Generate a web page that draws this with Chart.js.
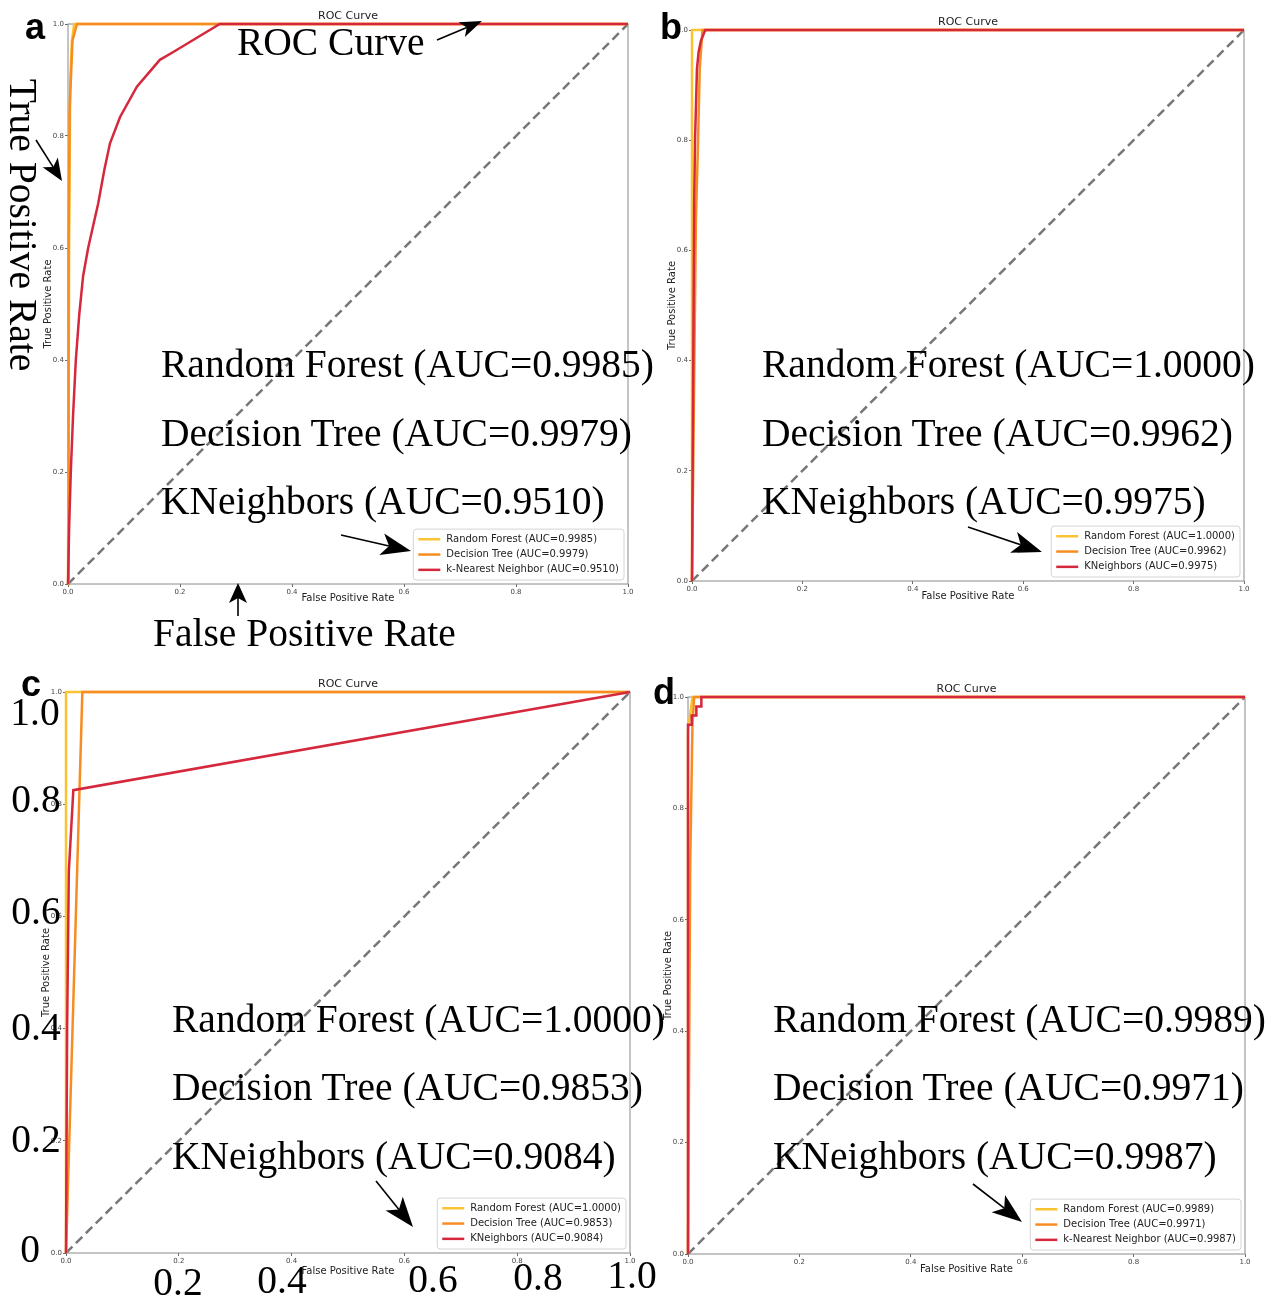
<!DOCTYPE html>
<html>
<head>
<meta charset="utf-8">
<script src="https://cdn.jsdelivr.net/npm/chart.js@4.4.0/dist/chart.umd.min.js"></script>
<style>
  body { margin: 0; background: #fff; }
  #page { position: relative; width: 1274px; height: 1301px; overflow: hidden; }
  canvas { position: absolute; }
  .note { position: absolute; font-family: "Liberation Serif", "Times New Roman", serif; font-size: 39.5px;
          line-height: 1; white-space: nowrap; color: #000; transform: translateY(-50%); }
  .mid { transform: translate(-50%, -50%); }
  .tag { position: absolute; font-family: "Liberation Sans", Arial, sans-serif; font-weight: bold;
         font-size: 36px; line-height: 1; transform: translate(-50%, -50%); }
  #arrows { position: absolute; left: 0; top: 0; z-index: 5; }
  .note, .tag { z-index: 6; }
</style>
</head>
<body>
<div id="page">
  <svg id="arrows" width="1274" height="1301"></svg>
</div>
<script>
// colours of the three models
const colors = ["#F9C433", "#F78D22", "#D5283C"];
const shortNames = ["Random Forest", "Decision Tree", "KNeighbors"];

// panel a
const namesA = ["Random Forest", "Decision Tree", "k-Nearest Neighbor"];
const aucA = [0.9985, 0.9979, 0.9510];
const forestA = [[0, 0], [0.002, 0.6], [0.004, 0.9], [0.007, 0.97], [0.011, 1], [1, 1]];
const treeA = [[0, 0], [0.001, 0.6], [0.003, 0.85], [0.008, 0.97], [0.016, 1], [1, 1]];
const knnA = [[0, 0], [0.002, 0.1], [0.005, 0.2], [0.009, 0.3], [0.014, 0.4], [0.02, 0.48], [0.027, 0.55],
  [0.036, 0.6], [0.045, 0.64], [0.054, 0.68], [0.065, 0.74], [0.075, 0.787], [0.093, 0.834],
  [0.123, 0.888], [0.164, 0.936], [0.188, 0.95], [0.271, 1], [1, 1]];

// panel b
const namesB = ["Random Forest", "Decision Tree", "KNeighbors"];
const aucB = [1.0, 0.9962, 0.9975];
const forestB = [[0, 0], [0, 1], [1, 1]];
const treeB = [[0, 0], [0.007, 0.65], [0.011, 0.8], [0.014, 0.93], [0.019, 1], [1, 1]];
const knnB = [[0, 0], [0.004, 0.69], [0.0055, 0.8], [0.009, 0.93], [0.012, 0.96], [0.016, 0.98], [0.024, 1], [1, 1]];

// panel c
const namesC = ["Random Forest", "Decision Tree", "KNeighbors"];
const aucC = [1.0, 0.9853, 0.9084];
const forestC = [[0, 0], [0, 1], [1, 1]];
const treeC = [[0, 0], [0.029, 1], [1, 1]];
const knnC = [[0, 0], [0.002, 0.4], [0.005, 0.68], [0.013, 0.825], [1, 1]];

// panel d
const namesD = ["Random Forest", "Decision Tree", "k-Nearest Neighbor"];
const aucD = [0.9989, 0.9971, 0.9987];
const forestD = [[0, 0], [0, 0.94], [0.004, 0.97], [0.008, 1], [1, 1]];
const treeD = [[0, 0], [0.004, 0.7], [0.008, 0.95], [0.011, 1], [1, 1]];
const knnD = [[0, 0], [0, 0.95], [0.0067, 0.95], [0.0067, 0.967], [0.015, 0.967], [0.015, 0.983],
  [0.024, 0.983], [0.024, 1], [1, 1]];

const chance = [[0, 0], [1, 1]];
const axisTicks = [0, 0.2, 0.4, 0.6, 0.8, 1.0];
const bigTicksY = ["1.0", "0.8", "0.6", "0.4", "0.2", "0"];
const bigTicksX = ["0.2", "0.4", "0.6", "0.8", "1.0"];

const page = document.getElementById("page");
const svg = document.getElementById("arrows");

const frame = {
  id: "frame",
  beforeDatasetsDraw(chart) {
    const a = chart.chartArea;
    const ctx = chart.ctx;
    ctx.save();
    ctx.strokeStyle = "#8a8a8a";
    ctx.lineWidth = 1;
    ctx.strokeRect(a.left, a.top, a.right - a.left, a.bottom - a.top);
    ctx.restore();
  }
};

const legendBox = {
  id: "legendBox",
  afterDatasetsDraw(chart) {
    const ctx = chart.ctx, area = chart.chartArea;
    const items = chart.data.datasets.filter((d) => d.label !== "chance");
    ctx.save();
    ctx.font = '10px "DejaVu Sans"';
    const textW = Math.max(...items.map((d) => ctx.measureText(d.label).width));
    const rowH = 15.3;
    const w = textW + 38, h = items.length * rowH + 5;
    const x = area.right - 4 - w, y = area.bottom - 4 - h;
    ctx.fillStyle = "rgba(255,255,255,0.85)";
    ctx.strokeStyle = "#d4d4d4";
    ctx.lineWidth = 1;
    ctx.beginPath();
    ctx.roundRect(x, y, w, h, 3);
    ctx.fill();
    ctx.stroke();
    items.forEach((d, i) => {
      const cy = y + 2.5 + rowH * (i + 0.5);
      ctx.strokeStyle = d.borderColor;
      ctx.lineWidth = 2.5;
      ctx.beginPath();
      ctx.moveTo(x + 5, cy);
      ctx.lineTo(x + 27, cy);
      ctx.stroke();
      ctx.fillStyle = "#222";
      ctx.textBaseline = "middle";
      ctx.fillText(d.label, x + 33, cy);
    });
    ctx.restore();
  }
};

const makePanel = (box, xTitleH, names, aucs, curves) => {
  const W = 27 + (box.r - box.l) + 8;
  const H = 18 + (box.b - box.t) + xTitleH;
  const canvas = document.createElement("canvas");
  canvas.width = W;
  canvas.height = H;
  canvas.style.left = box.l - 27 + "px";
  canvas.style.top = box.t - 18 + "px";
  canvas.style.width = W + "px";
  canvas.style.height = H + "px";
  page.appendChild(canvas);

  const datasets = curves.map((pts, i) => ({
    label: `${names[i]} (AUC=${aucs[i].toFixed(4)})`,
    data: pts.map((p) => ({ x: p[0], y: p[1] })),
    borderColor: colors[i],
    borderWidth: 2.5,
    showLine: true,
    pointRadius: 0,
    clip: false,
    order: 3 - i,
  }));
  datasets.push({
    label: "chance",
    data: chance.map((p) => ({ x: p[0], y: p[1] })),
    borderColor: "#777777",
    borderDash: [9, 5],
    borderWidth: 2.5,
    showLine: true,
    pointRadius: 0,
    order: 5,
  });

  const axis = (title, fit) => ({
    type: "linear",
    min: 0,
    max: 1,
    afterBuildTicks: (s) => { s.ticks = axisTicks.map((v) => ({ value: v })); },
    afterFit: fit,
    grid: { drawOnChartArea: false, drawTicks: true, tickLength: 3, color: "#444", lineWidth: 0.8 },
    border: { display: false },
    ticks: {
      font: { family: "DejaVu Sans", size: 7 },
      color: "#444",
      padding: 1,
      maxRotation: 0,
      callback: (v) => Number(v).toFixed(1),
    },
    title: {
      display: true,
      text: title,
      font: { family: "DejaVu Sans", size: 10 },
      color: "#222",
      padding: { top: 1, bottom: 0 },
    },
  });

  new Chart(canvas, {
    type: "scatter",
    data: { datasets },
    options: {
      responsive: false,
      animation: false,
      events: [],
      layout: { padding: { left: 0, right: 8, top: 0, bottom: 0 } },
      plugins: {
        legend: { display: false },
        tooltip: { enabled: false },
        title: {
          display: true,
          fullSize: false,
          text: "ROC Curve",
          font: { family: "DejaVu Sans", size: 11, weight: "normal", lineHeight: 1 },
          color: "#222",
          padding: { top: 5, bottom: 2 },
        },
      },
      scales: {
        x: axis("False Positive Rate", (s) => { s.height = xTitleH; }),
        y: axis("True Positive Rate", (s) => { s.width = 27; }),
      },
    },
    plugins: [frame, legendBox],
  });
};

makePanel({ l: 68, t: 24, r: 628, b: 584 }, 20, namesA, aucA, [forestA, treeA, knnA]);
makePanel({ l: 692, t: 30, r: 1244, b: 581 }, 21, namesB, aucB, [forestB, treeB, knnB]);
makePanel({ l: 66, t: 692, r: 630, b: 1253 }, 24, namesC, aucC, [forestC, treeC, knnC]);
makePanel({ l: 688, t: 697, r: 1245, b: 1254 }, 21, namesD, aucD, [forestD, treeD, knnD]);

// overlaid annotations
const note = (text, x, y, cls, extra) => {
  const el = document.createElement("div");
  el.className = cls;
  el.textContent = text;
  el.style.left = x + "px";
  el.style.top = y + "px";
  if (extra) el.style.transform = extra;
  page.appendChild(el);
};

const aucLines = (aucs, x, ys) => {
  shortNames.forEach((n, i) => note(`${n} (AUC=${aucs[i].toFixed(4)})`, x, ys[i], "note"));
};

aucLines(aucA, 161, [365, 434, 502]);
aucLines(aucB, 762, [365, 434, 502]);
aucLines(aucC, 172, [1020, 1088, 1157]);
aucLines(aucD, 773, [1020, 1088, 1157]);

note("ROC Curve", 237, 43, "note");
note("False Positive Rate", 153, 634, "note");
note("True Positive Rate", 22, 225, "note", "translate(-50%, -50%) rotate(90deg)");

const bigYPos = [[35, 713], [36, 800], [36, 912], [36, 1028], [36, 1140], [30, 1250]];
bigTicksY.forEach((t, i) => note(t, bigYPos[i][0], bigYPos[i][1], "note mid"));
const bigXPos = [[178, 1283], [282, 1281], [433, 1280], [538, 1278], [632, 1276]];
bigTicksX.forEach((t, i) => note(t, bigXPos[i][0], bigXPos[i][1], "note mid"));

note("a", 35, 27, "tag");
note("b", 671, 27, "tag");
note("c", 31, 684, "tag");
note("d", 664, 692, "tag");

const arrow = (x1, y1, x2, y2, len, half) => {
  const ang = Math.atan2(y2 - y1, x2 - x1);
  const c = Math.cos(ang), s = Math.sin(ang);
  const bx = x2 - len * c, by = y2 - len * s;
  const nx = x2 - len * 0.75 * c, ny = y2 - len * 0.75 * s;
  const ns = "http://www.w3.org/2000/svg";
  const line = document.createElementNS(ns, "line");
  line.setAttribute("x1", x1);
  line.setAttribute("y1", y1);
  line.setAttribute("x2", nx);
  line.setAttribute("y2", ny);
  line.setAttribute("stroke", "#000");
  line.setAttribute("stroke-width", 1.6);
  svg.appendChild(line);
  const head = document.createElementNS(ns, "polygon");
  const pts = [
    [x2, y2],
    [bx - half * s, by + half * c],
    [nx, ny],
    [bx + half * s, by - half * c],
  ];
  head.setAttribute("points", pts.map((p) => p.join(",")).join(" "));
  head.setAttribute("fill", "#000");
  svg.appendChild(head);
};

arrow(437, 40, 482, 21, 22, 8);
arrow(36, 140, 62, 181, 22, 9);
arrow(238, 616, 238, 583, 20, 9);
arrow(341, 535, 411, 551, 30, 11);
arrow(968, 527, 1042, 552, 30, 11);
arrow(376, 1181, 413, 1227, 30, 11);
arrow(973, 1184, 1022, 1222, 30, 11);
</script>
</body>
</html>
